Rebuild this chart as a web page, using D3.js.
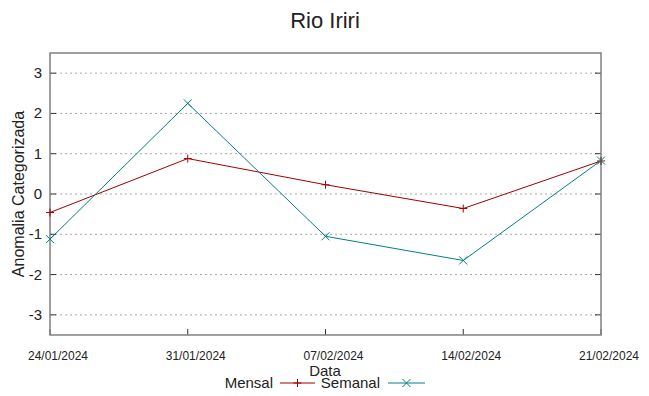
<!DOCTYPE html>
<html>
<head>
<meta charset="utf-8">
<script src="https://cdn.jsdelivr.net/npm/d3@7"></script>
<style>
  body { margin: 0; background: #fff; }
  text { font-family: "Liberation Sans", Arial, sans-serif; fill: #222; }
</style>
</head>
<body>
<div id="chart"></div>
<script>
// data
const dates = ["2024-01-24", "2024-01-31", "2024-02-07", "2024-02-14", "2024-02-21"];
const mensal = [-0.46, 0.88, 0.23, -0.36, 0.82];
const semanal = [-1.12, 2.25, -1.05, -1.65, 0.83];
const yTicks = [-3, -2, -1, 0, 1, 2, 3];
const tickDates = ["2024-01-24", "2024-01-31", "2024-02-07", "2024-02-14", "2024-02-21"];

const W = 649, H = 396;
const plotL = 50, plotR = 601, plotT = 53, plotB = 335;
const parse = d3.utcParse("%Y-%m-%d");
const fmt = d3.utcFormat("%d/%m/%Y");

let svg = d3.select("#chart").append("svg")
    .attr("width", W)
    .attr("height", H);

let x = d3.scaleUtc()
    .domain([parse(dates[0]), parse(dates[dates.length - 1])])
    .range([plotL, plotR]);
let y = d3.scaleLinear()
    .domain([-3.5, 3.5])
    .range([plotB, plotT]);

// grid
svg.append("g").selectAll("line")
    .data(yTicks).enter()
    .append("line")
    .attr("x1", plotL).attr("x2", plotR)
    .attr("y1", d => y(d)).attr("y2", d => y(d))
    .attr("stroke", "#a8a8a8")
    .attr("stroke-width", 1)
    .attr("stroke-dasharray", "2,3");

// tick marks on left/right (inward) and bottom (upward)
let tk = svg.append("g").attr("stroke", "#333").attr("stroke-width", 1);
yTicks.forEach(function(d) {
    tk.append("line").attr("x1", plotL).attr("x2", plotL + 6).attr("y1", y(d)).attr("y2", y(d));
    tk.append("line").attr("x1", plotR - 6).attr("x2", plotR).attr("y1", y(d)).attr("y2", y(d));
});
tickDates.forEach(function(d) {
    let px = x(parse(d));
    tk.append("line").attr("x1", px).attr("x2", px).attr("y1", plotB).attr("y2", plotB - 6);
});

// border
svg.append("rect")
    .attr("x", plotL).attr("y", plotT)
    .attr("width", plotR - plotL).attr("height", plotB - plotT)
    .attr("fill", "none")
    .attr("stroke", "#808080")
    .attr("stroke-width", 1.5);

// y tick labels
svg.append("g").selectAll("text")
    .data(yTicks).enter()
    .append("text")
    .attr("x", 42)
    .attr("y", d => y(d) + 5)
    .attr("text-anchor", "end")
    .style("font-size", "15px")
    .text(d => d);

// x tick labels
svg.append("g").selectAll("text")
    .data(tickDates).enter()
    .append("text")
    .attr("x", d => x(parse(d)) + 8)
    .attr("y", 360)
    .attr("text-anchor", "middle")
    .attr("textLength", 60)
    .attr("lengthAdjust", "spacingAndGlyphs")
    .style("font-size", "13px")
    .text(d => fmt(parse(d)));

// titles
svg.append("text")
    .attr("x", 325).attr("y", 28)
    .attr("text-anchor", "middle")
    .style("font-size", "22px")
    .text("Rio Iriri");

svg.append("text")
    .attr("x", 325).attr("y", 376)
    .attr("text-anchor", "middle")
    .style("font-size", "15px")
    .text("Data");

svg.append("text")
    .attr("transform", "translate(24," + ((plotT + plotB) / 2) + ") rotate(-90)")
    .attr("text-anchor", "middle")
    .style("font-size", "16px")
    .text("Anomalia Categorizada");

// series
const series = [
    {name: "Mensal", values: mensal, color: "#a00000", mark: "plus"},
    {name: "Semanal", values: semanal, color: "#008080", mark: "cross"}
];

let line = d3.line()
    .x(d => x(d.date))
    .y(d => y(d.v));

function drawMark(g, cx, cy, kind, color) {
    let s = 4;
    let p = kind === "plus"
        ? "M" + (cx - s) + "," + cy + "H" + (cx + s) + "M" + cx + "," + (cy - s) + "V" + (cy + s)
        : "M" + (cx - s) + "," + (cy - s) + "L" + (cx + s) + "," + (cy + s) + "M" + (cx - s) + "," + (cy + s) + "L" + (cx + s) + "," + (cy - s);
    g.append("path").attr("d", p).attr("stroke", color).attr("stroke-width", 1).attr("fill", "none");
}

series.forEach(function(s) {
    let pts = s.values.map((v, i) => ({date: parse(dates[i]), v: v}));
    let g = svg.append("g");
    g.append("path")
        .datum(pts)
        .attr("d", line)
        .attr("fill", "none")
        .attr("stroke", s.color)
        .attr("stroke-width", 1);
    pts.forEach(p => drawMark(g, x(p.date), y(p.v), s.mark, s.color));
});

// legend
let lg = svg.append("g");
const legendPos = [{tx: 273, lx1: 280, lx2: 315}, {tx: 380, lx1: 388, lx2: 425}];
series.forEach(function(s, i) {
    let L = legendPos[i];
    lg.append("text")
        .attr("x", L.tx).attr("y", 388)
        .attr("text-anchor", "end")
        .style("font-size", "15px")
        .text(s.name);
    lg.append("line")
        .attr("x1", L.lx1).attr("x2", L.lx2)
        .attr("y1", 383).attr("y2", 383)
        .attr("stroke", s.color).attr("stroke-width", 1);
    drawMark(lg, (L.lx1 + L.lx2) / 2, 383, s.mark, s.color);
});
</script>
</body>
</html>
